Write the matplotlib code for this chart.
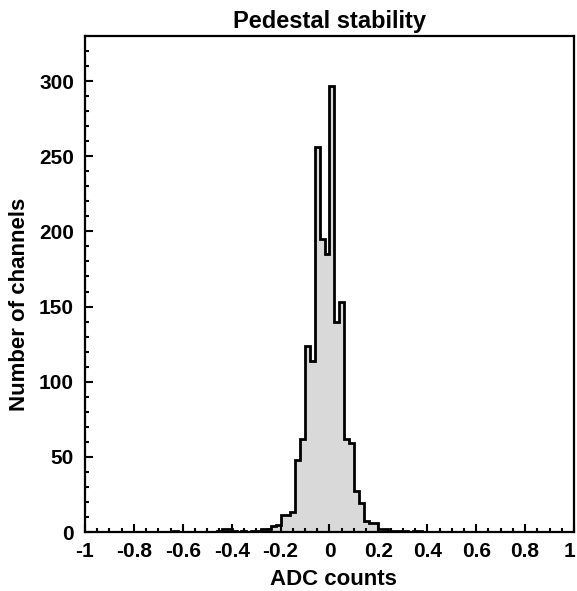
import numpy as np
import matplotlib
matplotlib.use("Agg")
import matplotlib.pyplot as plt
from matplotlib.ticker import MultipleLocator, FuncFormatter

plt.rcParams['font.family'] = ['Liberation Sans', 'DejaVu Sans']
plt.rcParams['font.weight'] = 'bold'
plt.rcParams['axes.unicode_minus'] = False

# histogram: 100 bins of width 0.02 between -1 and 1, only non-empty bins listed
bin_left = [-0.64, -0.46, -0.44, -0.42, -0.40, -0.36, -0.32, -0.30, -0.28, -0.26,
            -0.24, -0.22, -0.20, -0.18, -0.16, -0.14, -0.12, -0.10, -0.08, -0.06,
            -0.04, -0.02, 0.00, 0.02, 0.04, 0.06, 0.08, 0.10, 0.12, 0.14,
            0.16, 0.18, 0.20, 0.22, 0.24, 0.26, 0.28, 0.30, 0.34, 0.36]
counts = [1, 1, 2, 2, 1, 1, 1, 1, 2, 2,
          4, 5, 11, 11, 13, 48, 62, 124, 114, 256,
          195, 185, 297, 140, 153, 62, 59, 27, 19, 7,
          6, 6, 2, 2, 1, 1, 1, 1, 1, 1]

edges = np.linspace(-1, 1, 101)
centers = np.array(bin_left) + 0.01


def xfmt(v, pos):
    # the label at x=1 is drawn separately so it stays inside the figure
    if abs(v - 1) < 1e-6:
        return ""
    return "%g" % round(v, 2)


fig = plt.figure(figsize=(5.77, 5.91), dpi=100)
ax = fig.add_axes([0.1473, 0.0998, 0.8475, 0.8393])

ax.hist(centers, bins=edges, weights=counts, histtype='stepfilled',
        facecolor='#d9d9d9', edgecolor='black', linewidth=2)

ax.set_xlim(-1, 1)
ax.set_ylim(0, 330)

ax.xaxis.set_major_locator(MultipleLocator(0.2))
ax.xaxis.set_minor_locator(MultipleLocator(0.05))
ax.yaxis.set_major_locator(MultipleLocator(50))
ax.yaxis.set_minor_locator(MultipleLocator(10))
ax.xaxis.set_major_formatter(FuncFormatter(xfmt))

ax.tick_params(which='both', direction='in', width=1.5, labelsize=15,
               top=False, right=False)
ax.tick_params(which='major', length=6)
ax.tick_params(which='minor', length=3)
ax.tick_params(axis='x', pad=7)
ax.tick_params(axis='y', pad=8)
for s in ax.spines.values():
    s.set_linewidth(1.6)

ax.annotate("1", xy=(1, 0), xycoords=('data', 'axes fraction'),
            xytext=(1, -7), textcoords='offset points',
            ha='right', va='top', fontsize=15, fontweight='bold')

ax.set_title("Pedestal stability", fontsize=17, fontweight='bold', pad=6)
ax.set_xlabel("ADC counts", fontsize=16, fontweight='bold')
ax.set_ylabel("Number of channels", fontsize=16, fontweight='bold')
ax.xaxis.set_label_coords(0.509, -0.075)
ax.yaxis.set_label_coords(-0.112, 0.458)

fig.savefig("out.png", dpi=100)
